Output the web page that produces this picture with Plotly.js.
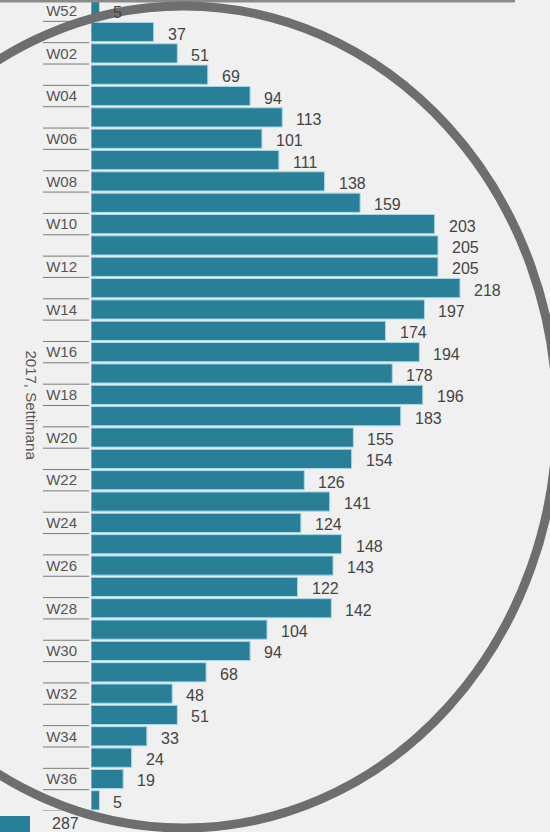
<!DOCTYPE html>
<html>
<head>
<meta charset="utf-8">
<script src="https://cdn.plot.ly/plotly-3.0.1.min.js"></script>
<style>
html,body{margin:0;padding:0;background:#f0f0f0;}
#chart{width:550px;height:832px;}
</style>
</head>
<body>
<div id="chart"></div>
<script>
// Data
const weeks = ["W52","W01","W02","W03","W04","W05","W06","W07","W08","W09","W10","W11","W12","W13","W14","W15","W16","W17","W18","W19","W20","W21","W22","W23","W24","W25","W26","W27","W28","W29","W30","W31","W32","W33","W34","W35","W36","W37"];
const counts = [5,37,51,69,94,113,101,111,138,159,203,205,205,218,197,174,194,178,196,183,155,154,126,141,124,148,143,122,142,104,94,68,48,51,33,24,19,5];
const tickLabels = weeks.filter((w,i)=>i%2===0);
const axisTitle = "2017, Settimana";
const nextChartValue = "287";

const W = 550, H = 832;
const M = {l:91, r:2, t:0, b:21};
const plotW = W - M.l - M.r, plotH = H - M.t - M.b;
const px2x = p => (p - M.l) / plotW;
const py2y = p => (H - M.b - p) / plotH;

const barColor = "#2a7f98";
const labelFont = "Liberation Sans, Arial, sans-serif";

const trace = {
  type: "bar",
  orientation: "h",
  y: weeks,
  x: counts,
  marker: {color: barColor, line: {color: "#a9d9e6", width: 1}},
  hoverinfo: "none"
};

const shapes = [];
// category boundary lines in the label area
for (let i = 0; i <= weeks.length; i++) {
  shapes.push({type:"line", xref:"paper", xsizemode:"pixel", xanchor:0, x0:-48, x1:-2,
    yref:"y", y0:i-0.5, y1:i-0.5, line:{color:"#7a7a7a", width:1}});
}
// top border line
shapes.push({type:"line", xref:"paper", yref:"paper", x0:px2x(0), x1:px2x(515), y0:py2y(1), y1:py2y(1), line:{color:"#8a8a8a", width:3}, layer:"above"});
// bottom partial bar of next chart
shapes.push({type:"rect", xref:"paper", yref:"paper", x0:px2x(0), x1:px2x(30), y0:py2y(816), y1:py2y(834), fillcolor:barColor, line:{width:0}});
// hand-drawn circle overlay
shapes.push({type:"circle", xref:"paper", yref:"paper", x0:px2x(-190), x1:px2x(557), y0:py2y(6), y1:py2y(828), line:{color:"#6e6e6e", width:9}, layer:"above"});

const annotations = counts.map((v,i)=>({
  x: v, y: weeks[i], xref:"x", yref:"y", text: String(v), showarrow:false,
  xanchor:"left", xshift: 12, yshift: -2,
  font:{family:labelFont, size:16, color:"#444"}
}));
annotations.push({xref:"paper", yref:"paper", x:px2x(20), y:py2y(405), text:axisTitle, textangle:90, showarrow:false,
  font:{family:labelFont, size:15, color:"#555"}});
annotations.push({xref:"paper", yref:"paper", x:px2x(50), y:py2y(823), text:nextChartValue, xanchor:"left", yanchor:"middle", showarrow:false,
  font:{family:labelFont, size:16, color:"#444"}});

const layout = {
  width: W, height: H,
  margin: M,
  paper_bgcolor: "#f0f0f0",
  plot_bgcolor: "#f0f0f0",
  showlegend: false,
  bargap: 0.1,
  xaxis: {range:[0,270], visible:false, fixedrange:true},
  yaxis: {type:"category", autorange:false, range:[weeks.length-0.5, -0.5],
    tickmode:"array", tickvals: tickLabels, ticktext: tickLabels,
    ticks:"outside", ticklen:10, tickcolor:"rgba(0,0,0,0)",
    showgrid:false, zeroline:false, showline:false,
    tickfont:{family:labelFont, size:15, color:"#555"}},
  shapes: shapes,
  annotations: annotations
};

Plotly.newPlot("chart", [trace], layout, {displayModeBar:false, staticPlot:true});
</script>
</body>
</html>
